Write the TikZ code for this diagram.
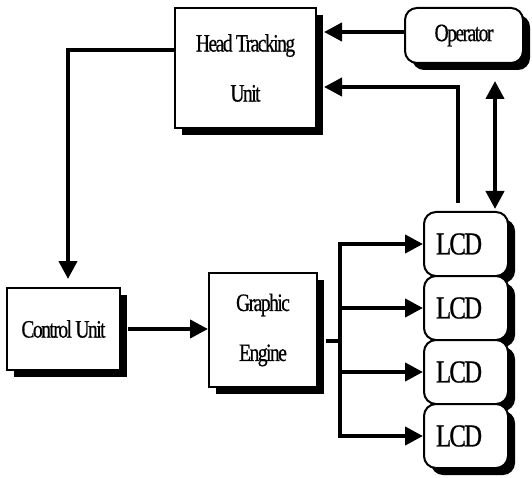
\documentclass[tikz,border=0pt]{standalone}
\usepackage{fontspec}
\setmainfont{Liberation Serif}[FakeStretch=0.78, LetterSpace=-6, FakeBold=0.6]
\usetikzlibrary{arrows.meta,shadows,calc}
\begin{document}
\begin{tikzpicture}[x=1pt,y=-1pt,
  box/.style={draw, line width=2pt, fill=white, align=center,
    general shadow={fill=black, shadow xshift=7pt, shadow yshift=-7pt},
    font=\fontsize{25}{50}\selectfont, inner sep=0pt},
  rbox/.style={box, rounded corners=12pt},
  lcdbox/.style={rbox, minimum width=82pt, minimum height=64pt,
    text width=60pt, align=left, inner xsep=12pt,
    font=\fontsize{32}{32}\selectfont},
  arr/.style={line width=4pt, -{Triangle[length=18pt,width=18pt]}},
  arrr/.style={line width=4pt, {Triangle[length=18pt,width=18pt]}-{Triangle[length=18pt,width=18pt]}},
  wire/.style={line width=4pt}]
\useasboundingbox (0,0) rectangle (532,478);
\node[box, minimum width=141pt, minimum height=120pt] (htu) at (245.5,68) {Head Tracking\\Unit};
\node[rbox, minimum width=118pt, minimum height=55pt] (op) at (464,35.5) {Operator};
\node[box, minimum width=113pt, minimum height=82pt] (cu) at (63.5,329) {Control Unit};
\node[box, minimum width=108pt, minimum height=114pt, shadow xshift=8pt] (ge) at (263,330) {Graphic\\Engine};
\node[lcdbox] (l1) at (466,244) {LCD};
\node[lcdbox] (l2) at (466,308) {LCD};
\node[lcdbox] (l3) at (466,372) {LCD};
\node[lcdbox] (l4) at (466,436) {LCD};
% Operator -> Head Tracking
\coordinate (a) at ([yshift=3.5pt]op.west);
\draw[arr] (a) -- ([xshift=7pt]htu.east |- a);
% LCD -> Head Tracking
\coordinate (b) at ([xshift=-8pt,yshift=8pt]l1.north);
\coordinate (bt) at ([xshift=7pt,yshift=-19pt]htu.east);
\draw[arr] (b) |- (bt);
% Operator <-> LCD
\coordinate (c1) at ([xshift=29pt,yshift=2pt]l1.north);
\coordinate (c2) at ([yshift=-17pt]op.south);
\draw[arrr] (c1) -- (c1 |- c2);
% Head Tracking -> Control Unit
\draw[arr, shorten >=8pt] ([yshift=18pt]htu.west) -| ([xshift=4.5pt]cu.north);
% Control Unit -> Graphic Engine
\draw[arr] ([xshift=7pt]cu.east) -- (ge.west |- cu.east);
% Graphic Engine -> bus
\coordinate (g) at ([xshift=8pt,yshift=-11pt]ge.east);
\coordinate (bus) at (340,341);
\draw[wire] (g) -- (bus |- g);
\draw[wire, line cap=rect] (bus |- l1.west) -- (bus |- l4.west);
\draw[arr] (bus |- l1.west) -- (l1.west);
\draw[arr] (bus |- l2.west) -- (l2.west);
\draw[arr] (bus |- l3.west) -- (l3.west);
\draw[arr] (bus |- l4.west) -- (l4.west);
\end{tikzpicture}
\end{document}
